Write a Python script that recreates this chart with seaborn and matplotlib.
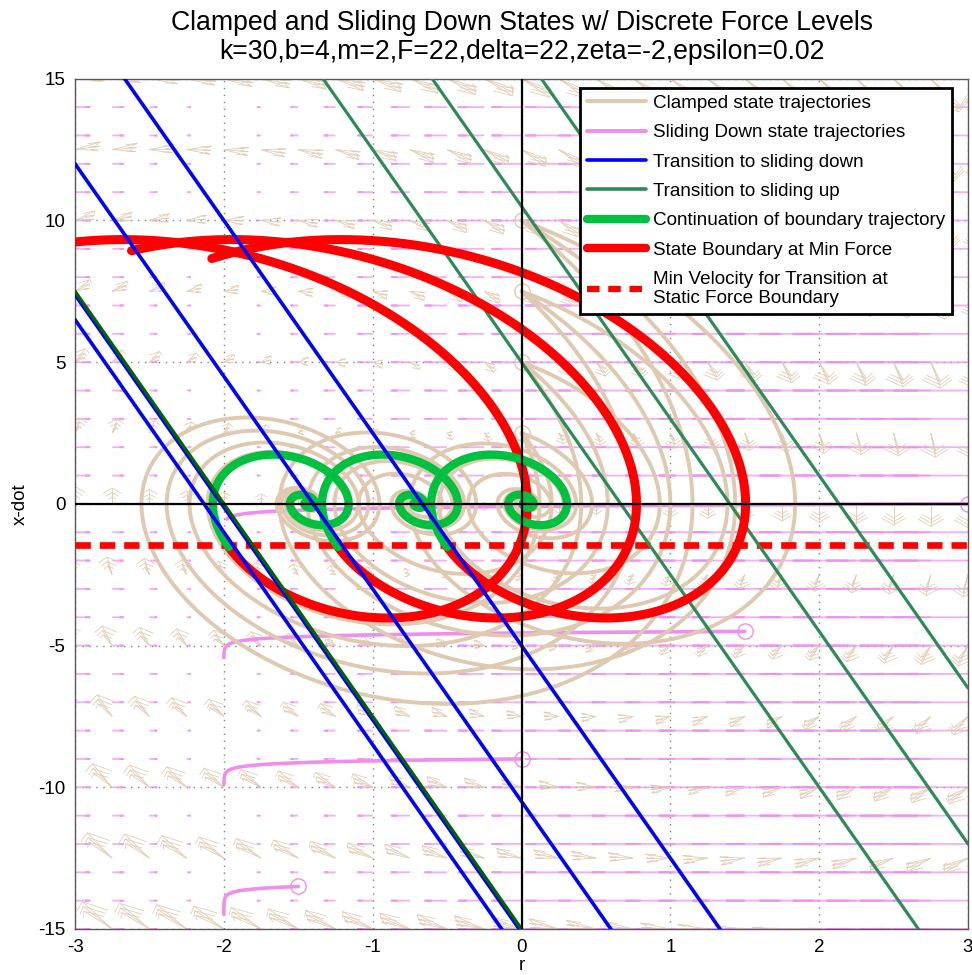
import numpy as np
import matplotlib
matplotlib.use("Agg")
import matplotlib.pyplot as plt
import seaborn as sns
import pandas as pd
from matplotlib.collections import LineCollection
from matplotlib.lines import Line2D

# ---- model parameters (k, b, m, F, delta, zeta, epsilon) ----
k, b, m = 30.0, 4.0, 2.0
F = 22.0
epsilon = 0.02

# clamped-state equilibria, one per discrete force level
force_level_centers = [0.03, -0.703, -1.437]

# clamped trajectories start on r = 0 at these velocities
clamped_start_r = [0.0, 0.0, 0.0, 0.0]
clamped_start_v = [2.5, 5.0, 7.5, 10.0]
clamped_duration = 6.0

# point where each boundary trajectory meets the static-force velocity line
boundary_dx = -0.53
boundary_v = -1.52
min_velocity = -1.45
# left end (in r) of each backward boundary trajectory
boundary_left_end = [-2.08, -2.61, -3.3]
continuation_time = 5.0

# sliding-down trajectories: start points, stop position, deceleration, durations
slide_start_r = [3.0, 1.5, 0.0, -1.5]
slide_start_v = [0.0, -4.5, -9.0, -13.5]
slide_duration = [0.11, 0.19, 0.185, 0.2]
slide_stop_r = -2.0
slide_decel = 4.9

# transition lines  x-dot = -(k/b) r + offset
down_offsets = [-16.0, -10.5, -5.0]
up_offsets = [16.0, 10.5, 5.0]
slide_edge_offset = -15.0

# colours
TAN = "#DFC9B0"
TAN_ARROW = "#E2CDB6"
VIOLET = "#EE8FEE"
SEAGREEN = "#2E8B57"
CONT_GREEN = "#00C040"
DARKGREEN = "#006400"

R_MIN, R_MAX, V_MIN, V_MAX = -3.0, 3.0, -15.0, 15.0


def clamped_rhs(s, c):
    x, v = s
    return np.array([v, -(k * (x - c) + b * v) / m])


def integrate(s0, c, t_end, dt=0.002):
    n = int(abs(t_end) / dt)
    h = dt if t_end > 0 else -dt
    out = np.empty((n + 1, 2))
    s = np.array(s0, dtype=float)
    out[0] = s
    for i in range(n):
        k1 = clamped_rhs(s, c)
        k2 = clamped_rhs(s + 0.5 * h * k1, c)
        k3 = clamped_rhs(s + 0.5 * h * k2, c)
        k4 = clamped_rhs(s + h * k3, c)
        s = s + h / 6.0 * (k1 + 2 * k2 + 2 * k3 + k4)
        out[i + 1] = s
    return out


def slide_path(r0, v0, t_end, dt=0.0005):
    t = np.arange(0, t_end + dt, dt)
    # r relaxes toward the stop position on the epsilon time scale, x-dot decays slowly
    r = np.empty_like(t)
    v = np.empty_like(t)
    r[0], v[0] = r0, v0
    for i in range(1, len(t)):
        r[i] = r[i - 1] - dt * (r[i - 1] - slide_stop_r) / epsilon
        v[i] = v[i - 1] - dt * slide_decel
    return r, v


def matlab_arrows(X, Y, U, V, alpha=0.33, beta=0.33):
    segs = []
    for x, y, u, v in zip(X.ravel(), Y.ravel(), U.ravel(), V.ravel()):
        tx, ty = x + u, y + v
        segs.append([(x, y), (tx, ty)])
        segs.append([(tx - alpha * (u + beta * v), ty - alpha * (v - beta * u)), (tx, ty),
                     (tx - alpha * (u - beta * v), ty - alpha * (v + beta * u))])
    return segs


def path_frame(arr):
    return pd.DataFrame({"r": arr[:, 0], "xdot": arr[:, 1]})


sns.set_theme(style="white")
plt.rcParams["font.family"] = ["Liberation Sans", "DejaVu Sans"]
plt.rcParams["axes.unicode_minus"] = False
for key in ("text.color", "axes.labelcolor", "xtick.color", "ytick.color"):
    plt.rcParams[key] = "black"

fig = plt.figure(figsize=(9.72, 9.75), dpi=100)
ax = fig.add_axes([0.0772, 0.0472, 0.9187, 0.872])

# ---- vector fields ----
qr = np.arange(R_MIN, R_MAX + 1e-9, 0.25)
qv_tan = np.arange(V_MIN, V_MAX + 1e-9, 2.5)
RR, VV = np.meshgrid(qr, qv_tan)
for c in force_level_centers:
    U = VV
    W = -(k * (RR - c) + b * VV) / m
    ln = np.sqrt((U / 0.25) ** 2 + (W / 2.5) ** 2)
    sc = 0.9 / ln.max()
    ax.add_collection(LineCollection(matlab_arrows(RR, VV, U * sc, W * sc),
                                     colors=TAN_ARROW, linewidths=0.6, zorder=1.5))

qv_pink = np.arange(V_MIN, V_MAX + 1e-9, 1.0)
RP, VP = np.meshgrid(qr, qv_pink)
UP = -(RP - slide_stop_r) / epsilon
WP = -slide_decel * np.ones_like(RP)
pink_scale = 0.1 * epsilon
ax.add_collection(LineCollection(matlab_arrows(RP, VP, UP * pink_scale, WP * pink_scale * 0.02,
                                               beta=0.08),
                                 colors=VIOLET, linewidths=1.3, alpha=0.7, zorder=1.2))

# ---- sliding-down trajectories ----
for r0, v0, T in zip(slide_start_r, slide_start_v, slide_duration):
    r, v = slide_path(r0, v0, T)
    sns.lineplot(x=r, y=v, sort=False, estimator=None, color=VIOLET, lw=2.6, ax=ax, zorder=2)
    ax.plot([r0], [v0], "o", mfc="none", mec=VIOLET, ms=11, mew=1.0, zorder=2)

# ---- clamped trajectories ----
for c in force_level_centers:
    for r0, v0 in zip(clamped_start_r, clamped_start_v):
        p = integrate([r0, v0], c, clamped_duration)
        sns.lineplot(data=path_frame(p), x="r", y="xdot", sort=False, estimator=None,
                     color=TAN, lw=2.8, ax=ax, zorder=3)
for r0, v0 in zip(clamped_start_r, clamped_start_v):
    ax.plot([r0], [v0], "o", mfc="none", mec=TAN, ms=11, mew=1.0, zorder=3)

# ---- static force velocity line ----
ax.plot([R_MIN, R_MAX], [min_velocity, min_velocity], color="red", lw=4.8,
        dashes=(2.3, 1.35), zorder=4)

# ---- transition lines ----
rr = np.array([R_MIN, R_MAX])
for off in up_offsets:
    ax.plot(rr, -(k / b) * rr + off, color=SEAGREEN, lw=2.3, zorder=4.5)

# ---- boundary trajectories and their continuations ----
for c, r_end in zip(force_level_centers, boundary_left_end):
    start = [c + boundary_dx, boundary_v]
    back = integrate(start, c, -2.0)
    past_top = np.where((back[:, 1] > 0) & (back[:, 0] <= r_end))[0]
    if len(past_top):
        back = back[:past_top[0] + 1]
    fwd = integrate(start, c, continuation_time)
    sns.lineplot(data=path_frame(back), x="r", y="xdot", sort=False, estimator=None,
                 color="red", lw=6.5, ax=ax, zorder=5)
    sns.lineplot(data=path_frame(fwd), x="r", y="xdot", sort=False, estimator=None,
                 color=CONT_GREEN, lw=6.0, ax=ax, zorder=5.5)

for off in down_offsets:
    ax.plot(rr, -(k / b) * rr + off, color="blue", lw=2.6, zorder=6.5)
ax.plot(rr, -(k / b) * rr + slide_edge_offset - 0.12, color="blue", lw=2.6, zorder=6.4)
ax.plot(rr, -(k / b) * rr + slide_edge_offset, color=DARKGREEN, lw=2.4, zorder=6.6)

# ---- coordinate axes ----
ax.plot([R_MIN, R_MAX], [0, 0], color="black", lw=1.6, zorder=8)
ax.plot([0, 0], [V_MIN, V_MAX], color="black", lw=1.6, zorder=8)

ax.set_xlim(R_MIN, R_MAX)
ax.set_ylim(V_MIN, V_MAX)
ax.set_xticks(np.arange(-3, 4, 1))
ax.set_yticks(np.arange(-15, 16, 5))
ax.grid(True, linestyle=(0, (1, 4)), color="0.5", lw=1.0)
ax.set_axisbelow(True)
for sp in ax.spines.values():
    sp.set_color("0.35")
    sp.set_linewidth(1.0)
ax.tick_params(labelsize=13.5, length=4, direction="in", pad=7)
ax.set_xlabel("r", fontsize=13.5, labelpad=1)
ax.set_ylabel("x-dot", fontsize=13.5, labelpad=7)
ax.set_title("Clamped and Sliding Down States w/ Discrete Force Levels\n"
             "k=30,b=4,m=2,F=22,delta=22,zeta=-2,epsilon=0.02",
             fontsize=19.2, pad=14, linespacing=1.15)

handles = [
    Line2D([], [], color=TAN, lw=2.8),
    Line2D([], [], color=VIOLET, lw=2.8),
    Line2D([], [], color="blue", lw=2.6),
    Line2D([], [], color=SEAGREEN, lw=2.6),
    Line2D([], [], color=CONT_GREEN, lw=6),
    Line2D([], [], color="red", lw=6),
    Line2D([], [], color="red", lw=4.5, dashes=(2.0, 1.4)),
]
labels = ["Clamped state trajectories", "Sliding Down state trajectories",
          "Transition to sliding down", "Transition to sliding up",
          "Continuation of boundary trajectory", "State Boundary at Min Force",
          "Min Velocity for Transition at\nStatic Force Boundary"]
leg = ax.legend(handles, labels, loc="upper right", bbox_to_anchor=(0.982, 0.989),
                fontsize=13.6, frameon=True, fancybox=False, framealpha=1,
                edgecolor="black", handlelength=3.1, borderpad=0.35,
                labelspacing=0.64, handletextpad=0.4, borderaxespad=0.0)
leg.get_frame().set_linewidth(2.0)
leg.set_zorder(20)
for t in leg.get_texts():
    t.set_linespacing(1.2)

fig.savefig("out.png", dpi=100)
